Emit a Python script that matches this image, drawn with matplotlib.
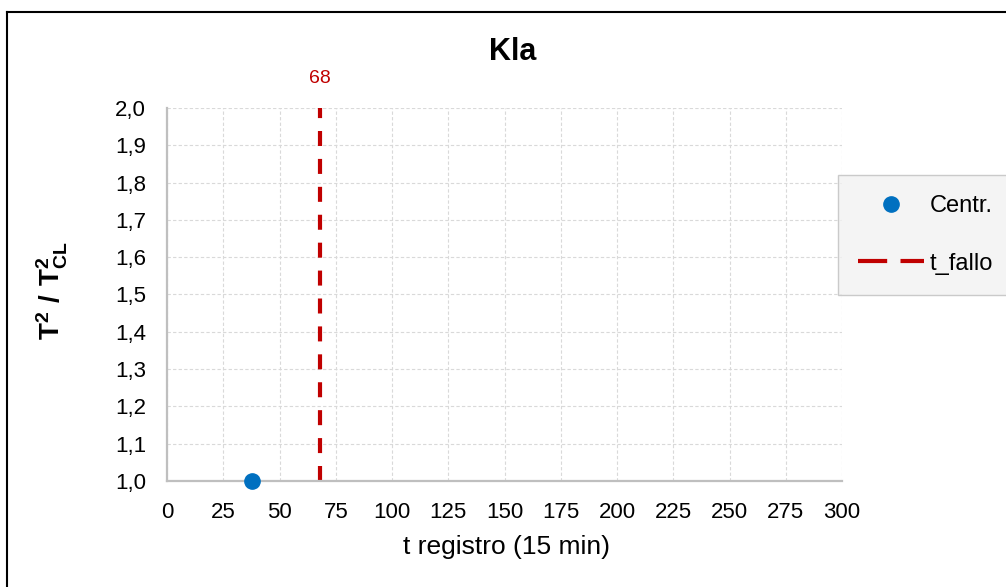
import matplotlib.pyplot as plt
from matplotlib.ticker import FuncFormatter
from matplotlib.lines import Line2D

plt.rcParams['font.family'] = ['Liberation Sans', 'DejaVu Sans']
plt.rcParams['mathtext.fontset'] = 'custom'
plt.rcParams['mathtext.rm'] = 'Liberation Sans'
plt.rcParams['mathtext.bf'] = 'Liberation Sans:bold'

# data
centr_t = [38]
centr_val = [1.0]
t_fallo = 68
x_ticks = list(range(0, 301, 25))
y_ticks = [1.0, 1.1, 1.2, 1.3, 1.4, 1.5, 1.6, 1.7, 1.8, 1.9, 2.0]

red = '#C00000'
blue = '#0070C0'

fig = plt.figure(figsize=(10.06, 5.87), dpi=100)
ax = fig.add_axes([0.166, 0.1806, 0.671, 0.6354])

ax.plot(centr_t, centr_val, 'o', color=blue, markersize=11, clip_on=False, zorder=5)
ax.plot([t_fallo, t_fallo], [1.0, 2.0], color=red, linestyle=(0, (3.6, 3.1)),
        linewidth=3, solid_capstyle='butt')
ax.text(t_fallo, 2.056, str(t_fallo), color=red, ha='center', va='bottom', fontsize=14)

ax.set_xlim(0, 300)
ax.set_ylim(1.0, 2.0)
ax.set_xticks(x_ticks)
ax.set_yticks(y_ticks)
ax.yaxis.set_major_formatter(FuncFormatter(lambda v, p: f'{v:.1f}'.replace('.', ',')))
ax.tick_params(length=0, labelsize=16, pad=15)
ax.grid(True, color='#d9d9d9', linestyle=(0, (3, 2)), linewidth=0.8)
for s in ['top', 'right']:
    ax.spines[s].set_visible(False)
for s in ['left', 'bottom']:
    ax.spines[s].set_color('#bfbfbf')
    ax.spines[s].set_linewidth(1.6)

fig.text(513 / 1006, 1 - 37 / 587, 'Kla', fontsize=22, fontweight='bold',
         ha='center', va='top')
ax.set_xlabel('t registro (15 min)', fontsize=19)
ax.xaxis.set_label_coords(0.503, -0.145)
ax.set_ylabel(r'$\mathbf{T^2\ /\ T^2_{CL}}$', fontsize=20)
ax.yaxis.set_label_coords(-0.143, 0.512)

handles = [
    Line2D([], [], marker='o', linestyle='none', color=blue, markersize=11),
    Line2D([], [], color=red, linewidth=3, linestyle=(0, (7, 3.2))),
]
leg = ax.legend(handles, ['Centr.', 't_fallo'], loc='upper left',
                bbox_to_anchor=(0.994, 0.820), fontsize=17, frameon=True,
                fancybox=False, facecolor='#f2f2f2', edgecolor='#bfbfbf',
                handlelength=2.8, labelspacing=1.5, borderpad=0.85,
                handletextpad=0.25, borderaxespad=0)
leg.get_frame().set_linewidth(1.0)

# chart border (left and top edges visible)
fig.add_artist(Line2D([7 / 1006, 7 / 1006], [0, 1 - 12 / 587], color='black',
                      linewidth=1.5, transform=fig.transFigure))
fig.add_artist(Line2D([7 / 1006, 1], [1 - 12 / 587, 1 - 12 / 587], color='black',
                      linewidth=1.5, transform=fig.transFigure))

fig.savefig('out.png', dpi=100)
